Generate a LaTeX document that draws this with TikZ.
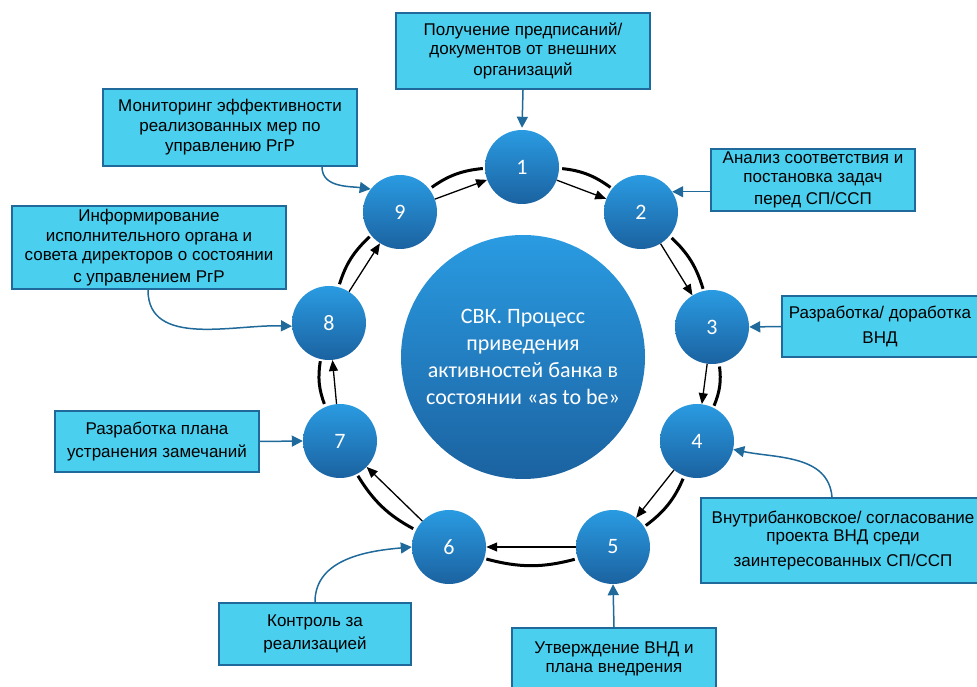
\documentclass[tikz,border=0pt]{standalone}
\usepackage{fontspec}
\setmainfont{Liberation Sans}
\newfontfamily\numfont{Carlito}
\usetikzlibrary{arrows.meta}
\definecolor{boxfill}{HTML}{4BCFEE}
\definecolor{boxline}{HTML}{1F6A9A}
\definecolor{ballTop}{HTML}{2A9BE2}
\definecolor{ballBot}{HTML}{1B62A0}
\begin{document}
\begin{tikzpicture}[x=1pt,y=1pt,
  ball/.style={circle, minimum size=74pt, inner sep=0pt, top color=ballTop,
    bottom color=ballBot, text=white, font=\numfont\fontsize{22}{26}\selectfont},
  hub/.style={circle, minimum size=244pt, inner sep=0pt, top color=ballTop,
    bottom color=ballBot, text=white, align=center,
    font=\numfont\fontsize{22}{27}\selectfont},
  stepbox/.style={draw=boxline, line width=2pt, fill=boxfill, inner sep=0pt,
    align=center, font=\fontsize{17}{18.6}\selectfont},
  feed/.style={draw=boxline, line width=1.5pt, -{Triangle[length=11pt,width=11pt]}},
  flow/.style={black, line width=1.3pt, -{Triangle[length=11pt,width=9pt]}},
  rim/.style={black, line width=3pt, shorten <=3pt, shorten >=2pt},
]
\useasboundingbox (0,0) rectangle (977,686);

% central circle
\node[hub] (hub) at (523,329)
  {СВК. Процесс\\приведения\\активностей банка в\\состоянии «as to be»};

% process steps
\node[ball] (c1) at (522,519) {1};
\node[ball] (c2) at (641,474) {2};
\node[ball] (c3) at (712,359) {3};
\node[ball] (c4) at (697,245) {4};
\node[ball] (c5) at (613,139) {5};
\node[ball] (c6) at (449,139) {6};
\node[ball] (c7) at (340,245) {7};
\node[ball] (c8) at (329,363) {8};
\node[ball] (c9) at (400,474) {9};

% cycle: straight arrows and outer arcs
\foreach \a/\b/\t in {1/2/-20.7, 2/3/-58.3, 3/4/-97.5, 4/5/-128.4, 5/6/180,
                      6/7/135.8, 7/8/95.3, 8/9/57.4, 9/1/20.2} {
  \pgfmathtruncatemacro\s{\t+18}
  \pgfmathtruncatemacro\e{\t+162}
  \draw[flow] (c\a) -- (c\b);
  \draw[rim] (c\a.\s) to[bend left=15] (c\b.\e);
}

% descriptions
\node[stepbox, minimum width=254pt, minimum height=76pt] (b1) at (523,635)
  {Получение предписаний/\\документов от внешних\\[3pt]организаций};
\node[stepbox, minimum width=204pt, minimum height=62pt] (b2) at (813,506)
  {Анализ соответствия и\\постановка задач\\[4pt]перед СП/ССП};
\node[stepbox, minimum width=196pt, minimum height=61pt] (b3) at (880,359.5)
  {Разработка/ доработка\\[6pt]ВНД};
\node[stepbox, minimum width=284pt, minimum height=85pt] (b4) at (843,145.5)
  {Внутрибанковское/ согласование\\проекта ВНД среди\\[6pt]заинтересованных СП/ССП};
\node[stepbox, minimum width=204pt, minimum height=62pt] (b5) at (614,27)
  {Утверждение ВНД и\\плана внедрения};
\node[stepbox, minimum width=192pt, minimum height=62pt] (b6) at (315,52)
  {Контроль за\\[4pt]реализацией};
\node[stepbox, minimum width=204pt, minimum height=61pt] (b7) at (157,244.5)
  {Разработка плана\\[4pt]устранения замечаний};
\node[stepbox, minimum width=274pt, minimum height=83pt] (b8) at (149,438.5)
  {Информирование\\[1.5pt]исполнительного органа и\\совета директоров о состоянии\\[3pt]с управлением РгР};
\node[stepbox, minimum width=254pt, minimum height=77pt] (b9) at (230,558.5)
  {Мониторинг эффективности\\[1.5pt]реализованных мер по\\[1.5pt]управлению РгР};

% links from descriptions to steps
\draw[feed, shorten >=2pt] (b1.south) -- (c1.north);
\draw[feed] (b2.west |- c2.33) -- (c2.33);
\draw[feed] (b3.west) -- (c3.east);
\draw[feed] ([xshift=-11pt]b4.north) to[out=95, in=-12] (c4.-13);
\draw[feed] (b5.north) -- (c5.south);
\draw[feed] (b6.north) to[out=90, in=185] (c6.west);
\draw[feed] ([xshift=-1pt]b8.south) to[out=-90, in=178] (c8.-175);
\draw[feed] ([xshift=92pt]b9.south) to[out=-90, in=172] (c9.142);
\draw[feed] (b7.east) -- (c7.west);
\end{tikzpicture}
\end{document}
